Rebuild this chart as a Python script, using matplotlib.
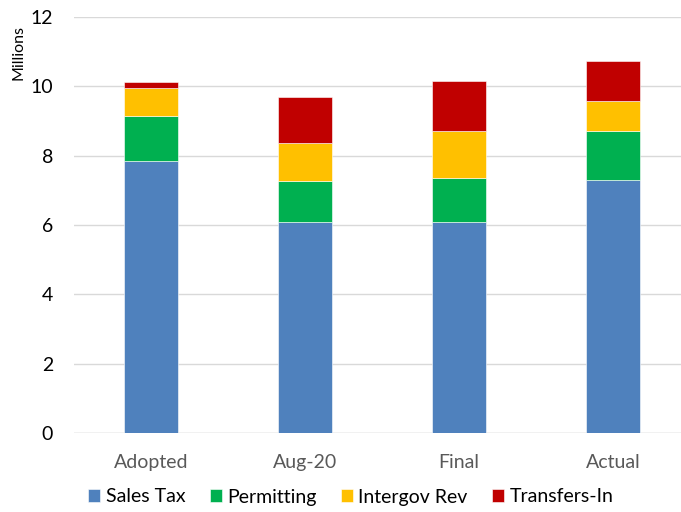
import matplotlib
matplotlib.use("Agg")
import matplotlib.pyplot as plt
import numpy as np

plt.rcParams['font.family'] = ['Lato', 'DejaVu Sans']

# 数据（单位：百万）
categories = ['Adopted', 'Aug-20', 'Final', 'Actual']
series_names = ['Sales Tax', 'Permitting', 'Intergov Rev', 'Transfers-In']
sales_tax = [7.85, 6.08, 6.08, 7.29]
permitting = [1.28, 1.20, 1.27, 1.43]
intergov_rev = [0.82, 1.09, 1.37, 0.87]
transfers_in = [0.18, 1.31, 1.43, 1.15]
colors = ['#4F81BD', '#00B050', '#FFC000', '#C00000']
y_ticks = [0, 2, 4, 6, 8, 10, 12]

fig = plt.figure(figsize=(6.81, 5.12), dpi=100)
ax = fig.add_axes([74 / 681, 79 / 512, 1 - 74 / 681, 416 / 512])

x = np.arange(len(categories))
bottom = np.zeros(len(categories))
for name, vals, c in zip(series_names,
                         [sales_tax, permitting, intergov_rev, transfers_in],
                         colors):
    ax.bar(x, vals, width=0.35, bottom=bottom, color=c, label=name,
           edgecolor='white', linewidth=0.4, zorder=3)
    bottom += np.array(vals)

ax.set_xlim(-0.5, 3.44)
ax.set_ylim(0, 12)
ax.set_yticks(y_ticks)
ax.set_xticks(x)
ax.set_xticklabels(categories, color='#595959', fontsize=14)
ax.tick_params(axis='y', length=0, pad=15, labelsize=14)
ax.tick_params(axis='x', length=0, pad=15)
ax.grid(axis='y', color='#D9D9D9', linewidth=1, zorder=0)
for s in ax.spines.values():
    s.set_visible(False)
ax.axhline(0, color='#D9D9D9', linewidth=1, zorder=1)

fig.text(18 / 681, 1 - 52 / 512, 'Millions', rotation=90, ha='center',
         va='center', fontsize=11.5)

fig.legend(loc='center', bbox_to_anchor=(0.515, 1 - 497 / 512), ncol=4,
           frameon=False, fontsize=14, handlelength=0.62, handleheight=0.62,
           handletextpad=0.28, columnspacing=1.25)

plt.savefig('out.png', dpi=100)
plt.close()
